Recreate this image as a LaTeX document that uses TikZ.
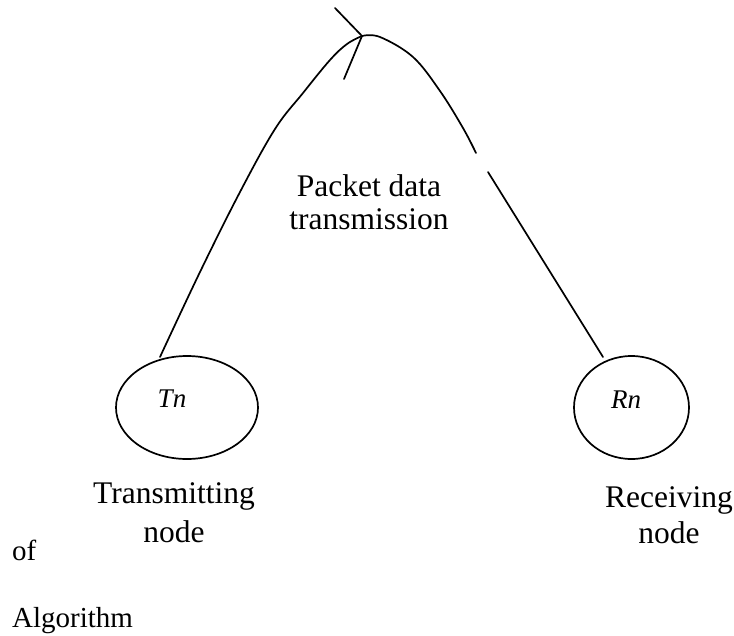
\documentclass[tikz,border=0pt]{standalone}
\usepackage{fontspec}
\setmainfont{Liberation Serif}
\usetikzlibrary{shapes.geometric}

\tikzset{
  stroke/.style={line width=1.7pt, line cap=round, line join=round},
  station/.style={ellipse, draw, line width=1.7pt, inner sep=0pt,
                  minimum height=103pt},
  caption/.style={font=\fontsize{31.5}{36}\selectfont, inner sep=0pt, align=center},
  margintext/.style={font=\fontsize{29}{34}\selectfont, inner sep=0pt, anchor=base west},
  tag/.style={font=\fontsize{27}{30}\selectfont\itshape, inner sep=0pt},
}

\begin{document}
\begin{tikzpicture}[x=1pt, y=-1pt]
  \useasboundingbox (0,0) rectangle (734,635);

  % the two stations
  \node[station, minimum width=142pt] (tn) at (187,407.5) {};
  \node[station, minimum width=115pt] (rn) at (631.5,407.5) {};
  \node[tag] (tnlabel) at (172,399) {Tn};
  \node[tag] (rnlabel) at (626,400) {Rn};

  % ends of the transmission path
  \coordinate (lstart) at (160,357);
  \coordinate (peak) at (362,36);
  \coordinate (gapa) at (476,153);
  \coordinate (gapb) at (488,172);
  \coordinate (rend) at (603,357);
  \coordinate (barbup) at (335,8);
  \coordinate (barbdown) at (344,79);

  % rising branch from the transmitting node to the peak
  \draw[stroke] plot[smooth, tension=0.6] coordinates {
    (lstart) (200,272) (240,192) (275,129) (303,93)
    (330,60) (347,44) (peak)};
  % falling branch, broken once, down to the receiving node
  \draw[stroke] plot[smooth, tension=0.6] coordinates {
    (peak) (380,37) (413,57) (440,91) (463,128) (gapa)};
  \draw[stroke] (gapb) -- (rend);
  % open barb at the peak
  \draw[stroke] (barbup) -- (peak) -- (barbdown);

  % labels
  \node[caption, font=\fontsize{31.5}{33}\selectfont] (packet) at (369,202) {Packet data\\transmission};
  \node[caption, font=\fontsize{31.5}{39}\selectfont] (tcap) at (174,513) {Transmitting\\node};
  \node[caption, font=\fontsize{31.5}{36}\selectfont] (rcap) at (669,515) {Receiving\\node};
  \node[margintext] (of) at (12,560) {of};
  \node[margintext] (algo) at (12,627) {Algorithm};
\end{tikzpicture}
\end{document}
